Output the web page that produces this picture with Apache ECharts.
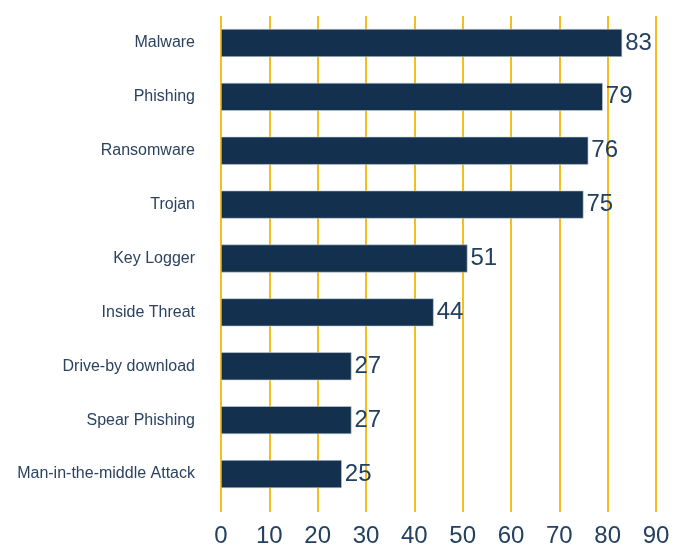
<!DOCTYPE html>
<html>
<head>
<meta charset="utf-8">
<script src="https://cdn.jsdelivr.net/npm/echarts@6/dist/echarts.min.js"></script>
<style>
  html, body { margin: 0; padding: 0; background: #ffffff; }
  #chart { width: 684px; height: 548px; }
</style>
</head>
<body>
<div id="chart"></div>
<script>
// Threat types, listed top to bottom
const categories = [
  'Malware', 'Phishing', 'Ransomware', 'Trojan', 'Key Logger',
  'Inside Threat', 'Drive-by download', 'Spear Phishing', 'Man-in-the-middle Attack'
];
const values = [83, 79, 76, 75, 51, 44, 27, 27, 25];
const xTicks = [0, 10, 20, 30, 40, 50, 60, 70, 80, 90];

const navy = '#13314f';
const gold = '#f5bd1f';
const textColor = '#2b4360';
const numColor = '#24405f';
const font = "'Liberation Sans', Arial, sans-serif";

const chart = echarts.init(document.getElementById('chart'), null, { renderer: 'canvas' });
chart.setOption({
  animation: false,
  grid: { left: 221, right: 28, top: 16, bottom: 46, containLabel: false },
  xAxis: {
    type: 'value',
    min: xTicks[0],
    max: xTicks[xTicks.length - 1],
    interval: 10,
    axisLine: { show: false },
    axisTick: { show: true, length: 11, lineStyle: { color: gold, width: 2 } },
    splitLine: { show: true, lineStyle: { color: gold, width: 2 } },
    axisLabel: {
      color: numColor, fontFamily: font, fontSize: 24, margin: 23,
      formatter: v => xTicks.includes(v) ? String(v) : ''
    }
  },
  yAxis: {
    type: 'category',
    data: categories,
    inverse: true,
    axisLine: { show: false },
    axisTick: { show: false },
    axisLabel: {
      color: textColor, fontFamily: font, fontSize: 16, margin: 26,
      verticalAlign: 'middle', padding: [0, 0, 6, 0]
    }
  },
  series: [{
    type: 'bar',
    data: values,
    barWidth: 28,
    itemStyle: { color: navy, borderColor: '#c9d1da', borderWidth: 0.6 },
    label: {
      show: true, position: 'right', distance: 3,
      color: numColor, fontFamily: font, fontSize: 24
    }
  }]
});
</script>
</body>
</html>
